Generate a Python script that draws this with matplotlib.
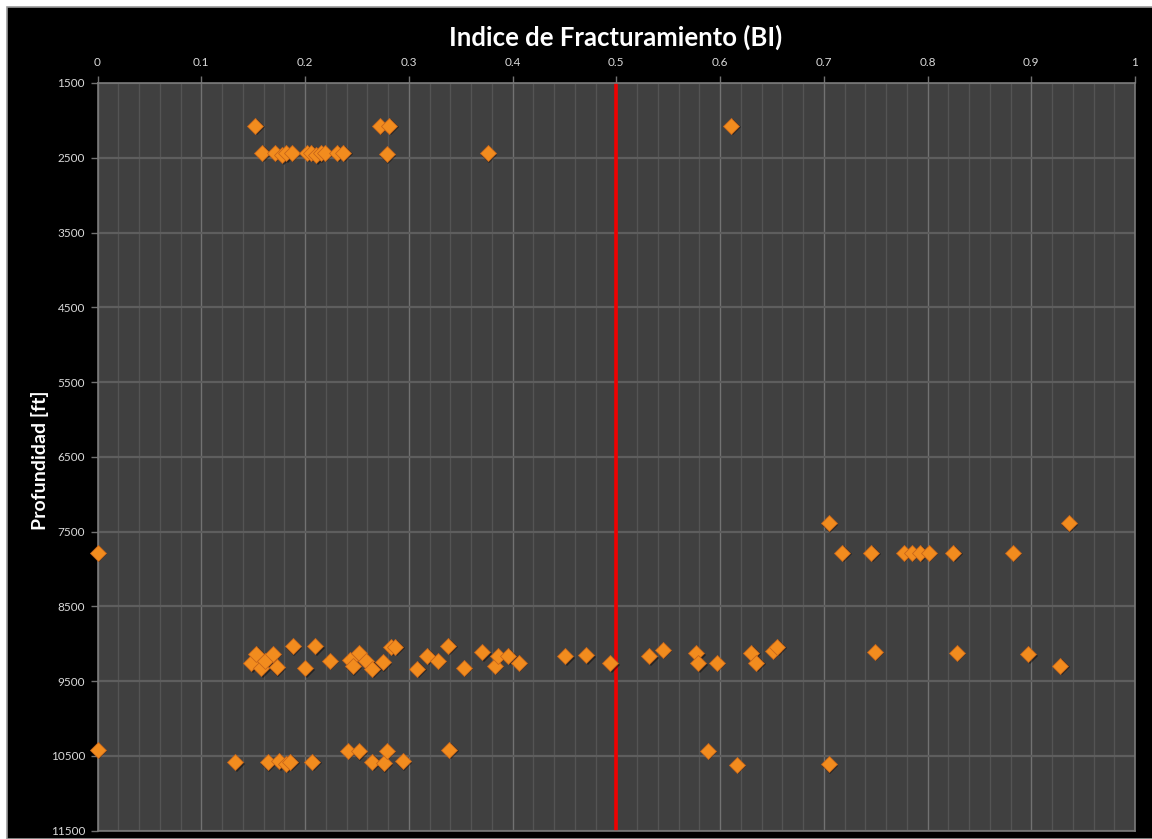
"""Indice de Fracturamiento (BI) vs profundidad."""
import matplotlib
matplotlib.use('Agg')
import matplotlib.pyplot as plt
import matplotlib.transforms as mtransforms
from matplotlib.patches import Rectangle
import numpy as np

# ── Colors ──
C_BG = '#000000'
C_AX = '#404040'
C_MAJ = '#727272'
C_HOR = '#5e5e5e'
C_MIN = '#545454'
C_PT = '#f28c1e'
C_PT_EDGE = '#c8661a'
C_RED = '#f00000'
C_TXT = '#d9d9d9'

plt.rcParams['font.family'] = ['Lato', 'DejaVu Sans']

# ── Data (BI, depth in ft) ──
bi_top = [0.152, 0.272, 0.281, 0.611,
          0.159, 0.171, 0.178, 0.182, 0.187, 0.202, 0.206, 0.211, 0.215,
          0.219, 0.231, 0.237, 0.279, 0.376]
depth_top = [2070, 2070, 2070, 2070,
             2433, 2433, 2464, 2440, 2433, 2433, 2433, 2464, 2440,
             2433, 2433, 2433, 2450, 2441]

bi_mid = [0.705, 0.936,
          0.0, 0.718, 0.746, 0.777, 0.785, 0.793, 0.801, 0.825, 0.882]
depth_mid = [7390, 7390,
             7783, 7783, 7783, 7783, 7783, 7783, 7783, 7783, 7783]

bi_low = [0.148, 0.153, 0.158, 0.161, 0.169, 0.173, 0.188, 0.200, 0.210,
          0.224, 0.243, 0.246, 0.252, 0.259, 0.265, 0.275, 0.283, 0.287,
          0.308, 0.318, 0.328, 0.338, 0.353, 0.371, 0.383, 0.386, 0.396,
          0.406, 0.451, 0.471, 0.494, 0.532, 0.545, 0.577, 0.579, 0.597,
          0.630, 0.635, 0.651, 0.655, 0.749, 0.828, 0.897, 0.928]
depth_low = [9260, 9135, 9327, 9233, 9135, 9314, 9032, 9327, 9032,
             9224, 9215, 9301, 9117, 9237, 9335, 9247, 9041, 9037,
             9335, 9161, 9224, 9028, 9318, 9113, 9291, 9161, 9161,
             9255, 9166, 9153, 9260, 9170, 9077, 9126, 9260, 9255,
             9121, 9255, 9090, 9037, 9108, 9121, 9139, 9291]

bi_bot = [0.0, 0.133, 0.164, 0.175, 0.182, 0.186, 0.207, 0.241, 0.252,
          0.265, 0.276, 0.279, 0.294, 0.339, 0.588, 0.616, 0.705]
depth_bot = [10420, 10586, 10586, 10572, 10607, 10576, 10580, 10430, 10435,
             10576, 10600, 10433, 10572, 10420, 10433, 10616, 10612]

bi = bi_top + bi_mid + bi_low + bi_bot
depth = depth_top + depth_mid + depth_low + depth_bot

x_ticks = np.arange(0, 1.01, 0.1)
x_ticklabels = ['0', '0.1', '0.2', '0.3', '0.4', '0.5', '0.6', '0.7', '0.8', '0.9', '1']
y_ticks = np.arange(1500, 11501, 1000)
limite = 0.5

# =============================================
fig = plt.figure(figsize=(11.52, 8.39), dpi=100, facecolor='white')
# black chart area (white strip only on top/left, like the screenshot crop)
fig.patches.append(Rectangle((7 / 1152, 0), 1, 832 / 839, transform=fig.transFigure,
                             facecolor=C_BG, edgecolor='#9a9a9a', linewidth=1.2, zorder=-5))

ax = fig.add_axes([97.5 / 1152, 1 - 830.7 / 839, (1135 - 97.5) / 1152, (830.7 - 83) / 839])
ax.set_zorder(1)
ax.set_facecolor(C_AX)

ax.set_xlim(0, 1)
ax.set_ylim(11500, 1500)
ax.set_xticks(x_ticks)
ax.set_xticklabels(x_ticklabels)
ax.set_xticks(np.arange(0, 1.001, 0.02), minor=True)
ax.set_yticks(y_ticks)
ax.xaxis.tick_top()

ax.grid(which='minor', axis='x', color=C_MIN, linewidth=1.0)
ax.grid(which='major', axis='x', color=C_MAJ, linewidth=1.0)
ax.grid(which='major', axis='y', color=C_HOR, linewidth=1.6)
ax.set_axisbelow(True)

ax.tick_params(axis='x', which='major', colors=C_MAJ, labelcolor=C_TXT, labelsize=8.5,
               length=5, width=1, pad=6)
ax.tick_params(axis='x', which='minor', length=0)
ax.tick_params(axis='y', colors=C_MAJ, labelcolor=C_TXT, labelsize=8.5, length=5, width=1, pad=4)
for s in ax.spines.values():
    s.set_color('#7a7a7a')
    s.set_linewidth(1.2)

# red reference line at BI = 0.5
ax.axvline(limite, color=C_RED, linewidth=2.6, zorder=2)

# marker shadow + points (not clipped, so the BI = 0 points show whole)
shadow = mtransforms.offset_copy(ax.transData, fig=fig, x=1.5, y=-1.5, units='dots')
ax.plot(bi, depth, 'D', color='black', alpha=0.45, markersize=8, markeredgewidth=0,
        transform=shadow, zorder=3, clip_on=False)
ax.plot(bi, depth, 'D', color=C_PT, markeredgecolor=C_PT_EDGE, markeredgewidth=0.6,
        markersize=8, zorder=4, clip_on=False)

fig.text(616 / 1152, 1 - 37 / 839, 'Indice de Fracturamiento (BI)', color='white',
         fontsize=18.5, fontweight='bold', ha='center', va='center')
fig.text(40 / 1152, 1 - 460 / 839, 'Profundidad [ft]', color='white', fontsize=14,
         fontweight='bold', rotation=90, ha='center', va='center')

plt.savefig('out.png', dpi=100, facecolor='white')
plt.close()
